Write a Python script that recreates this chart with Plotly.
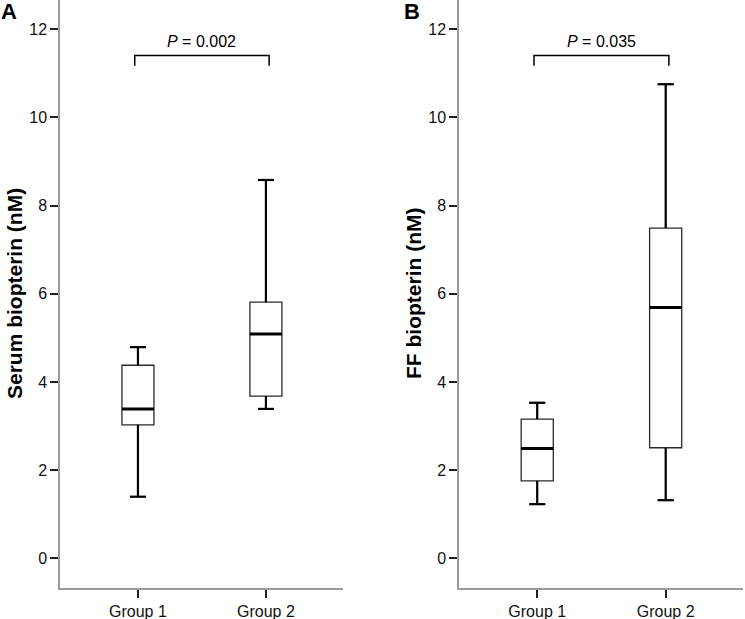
import plotly.graph_objects as go

# ---------------- data ----------------
groups = ["Group 1", "Group 2"]
group_pos = [0, 1]

serum_lower = [1.40, 3.39]
serum_q1 = [3.03, 3.68]
serum_median = [3.39, 5.09]
serum_q3 = [4.38, 5.81]
serum_upper = [4.79, 8.58]

ff_lower = [1.23, 1.32]
ff_q1 = [1.76, 2.51]
ff_median = [2.49, 5.69]
ff_q3 = [3.16, 7.49]
ff_upper = [3.53, 10.75]

p_values = ["0.002", "0.035"]
y_titles = ["Serum biopterin (nM)", "FF biopterin (nM)"]
panel_letters = ["A", "B"]
y_ticks = [0, 2, 4, 6, 8, 10, 12]
bracket_level = 11.40
bracket_drop = 0.23
p_text_level = 11.73

# ---------------- style ----------------
FONT = "Arial, Liberation Sans, sans-serif"
BOX_W = 0.25
CAP_W = BOX_W * 0.5
AXIS_GRAY = "#9a9a9a"

panels = [
    dict(lower=serum_lower, q1=serum_q1, med=serum_median, q3=serum_q3, upper=serum_upper,
         xa="x", ya="y"),
    dict(lower=ff_lower, q1=ff_q1, med=ff_median, q3=ff_q3, upper=ff_upper,
         xa="x2", ya="y2"),
]

fig = go.Figure()

for k, p in enumerate(panels):
    fig.add_trace(go.Box(
        x=group_pos, q1=p["q1"], median=p["med"], q3=p["q3"],
        lowerfence=p["lower"], upperfence=p["upper"],
        width=BOX_W, whiskerwidth=0.5, boxpoints=False,
        fillcolor="white", line=dict(color="#2a2a2a", width=1.3),
        xaxis=p["xa"], yaxis=p["ya"], hoverinfo="skip", showlegend=False,
    ))
    # thicker whiskers and caps
    wx, wy = [], []
    for i, pos in enumerate(group_pos):
        wx += [pos, pos, None, pos, pos, None,
               pos - CAP_W / 2, pos + CAP_W / 2, None,
               pos - CAP_W / 2, pos + CAP_W / 2, None]
        wy += [p["q3"][i], p["upper"][i], None, p["q1"][i], p["lower"][i], None,
               p["upper"][i], p["upper"][i], None, p["lower"][i], p["lower"][i], None]
    fig.add_trace(go.Scatter(x=wx, y=wy, mode="lines",
                             line=dict(color="black", width=2.2),
                             xaxis=p["xa"], yaxis=p["ya"], hoverinfo="skip",
                             showlegend=False))
    # thick medians
    mx, my = [], []
    for i, pos in enumerate(group_pos):
        mx += [pos - BOX_W / 2, pos + BOX_W / 2, None]
        my += [p["med"][i], p["med"][i], None]
    fig.add_trace(go.Scatter(x=mx, y=my, mode="lines",
                             line=dict(color="black", width=3),
                             xaxis=p["xa"], yaxis=p["ya"], hoverinfo="skip",
                             showlegend=False))
    # significance bracket
    x0 = group_pos[0] - 0.025
    x1 = group_pos[1] + 0.025
    fig.add_trace(go.Scatter(
        x=[x0, x0, x1, x1],
        y=[bracket_level - bracket_drop, bracket_level, bracket_level,
           bracket_level - bracket_drop],
        mode="lines", line=dict(color="black", width=1.5),
        xaxis=p["xa"], yaxis=p["ya"], hoverinfo="skip", showlegend=False))
    fig.add_annotation(x=(group_pos[0] + group_pos[1]) / 2, y=p_text_level,
                       xref=p["xa"], yref=p["ya"],
                       text=f"<i>P</i> = {p_values[k]}", showarrow=False,
                       font=dict(family=FONT, size=16, color="black"))
    # y-axis title
    fig.add_annotation(x=0, y=0.5, xref=f"{p['xa']} domain", yref=f"{p['ya']} domain",
                       xshift=-46, xanchor="center", yanchor="middle",
                       text=f"<b>{y_titles[k]}</b>", textangle=-90, showarrow=False,
                       font=dict(family=FONT, size=21, color="black"))
    # panel letter
    fig.add_annotation(x=0, y=1, xref=f"{p['xa']} domain", yref="paper",
                       xshift=-61 if k == 0 else -57, xanchor="left", yanchor="top",
                       yshift=3,
                       text=f"<b>{panel_letters[k]}</b>", showarrow=False,
                       font=dict(family=FONT, size=22, color="black"))

xaxis_common = dict(
    range=[-0.609, 1.602], tickvals=group_pos, ticktext=groups,
    showline=True, linecolor=AXIS_GRAY, linewidth=1.5,
    ticks="outside", ticklen=8, tickwidth=1.5, tickcolor="#222222",
    showgrid=False, zeroline=False, automargin=False,
    tickfont=dict(family=FONT, size=16, color="#111111"),
)
yaxis_common = dict(
    range=[-0.67, 12.66], tickvals=y_ticks,
    showline=True, linecolor=AXIS_GRAY, linewidth=1.5,
    ticks="outside", ticklen=8, tickwidth=1.5, tickcolor="#222222",
    showgrid=False, zeroline=False, automargin=False,
    tickfont=dict(family=FONT, size=16, color="#111111"),
)

fig.update_layout(
    width=745, height=619,
    margin=dict(l=60, r=2, t=0, b=31, autoexpand=False),
    paper_bgcolor="white", plot_bgcolor="white",
    showlegend=False,
    xaxis=dict(domain=[0, 0.4143], anchor="y", **xaxis_common),
    yaxis=dict(domain=[0, 1], anchor="x", **yaxis_common),
    xaxis2=dict(domain=[0.5842, 1.0], anchor="y2", **xaxis_common),
    yaxis2=dict(domain=[0, 1], anchor="x2", **yaxis_common),
    font=dict(family=FONT, color="black"),
)

fig.write_html("out.html",
               config={"displayModeBar": False},
               post_script="document.body.style.margin='0';document.body.style.overflow='hidden';")
